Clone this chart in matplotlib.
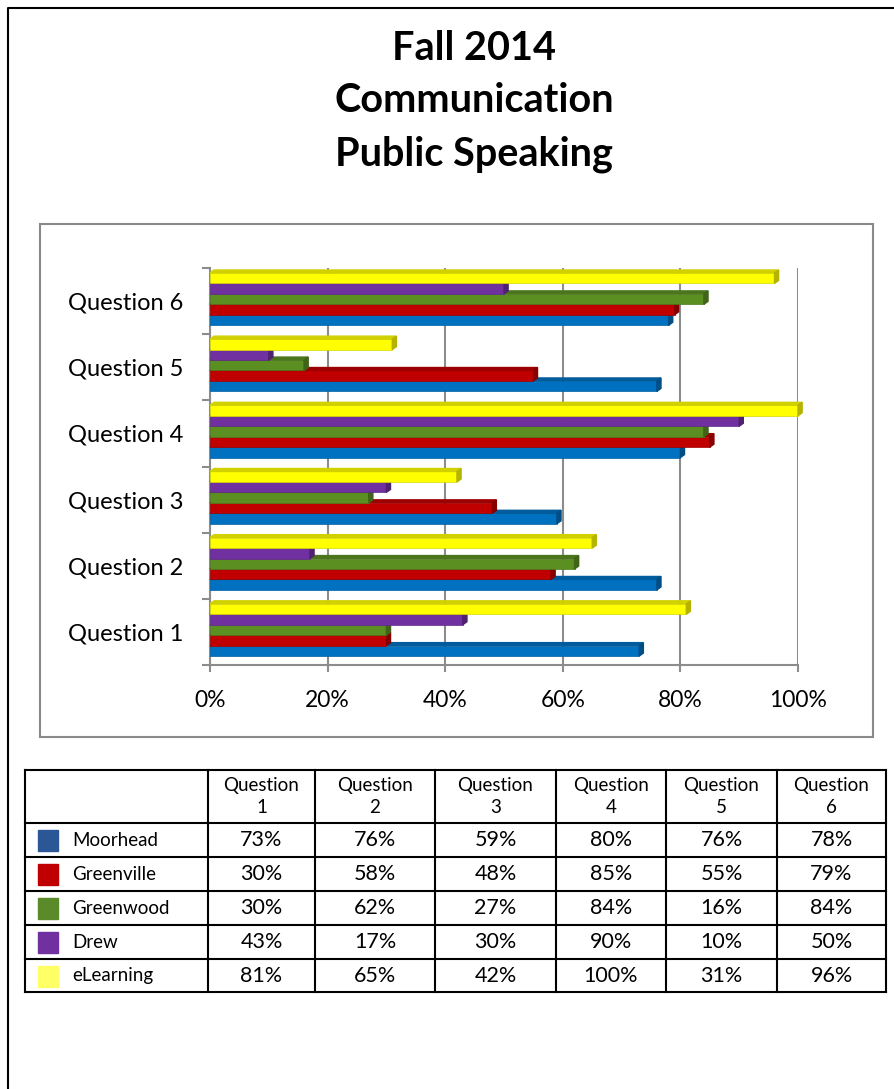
import matplotlib.pyplot as plt
from matplotlib.patches import Rectangle, Polygon
from matplotlib.colors import to_rgb

plt.rcParams['font.family'] = ['Lato', 'DejaVu Sans']

# data
questions = ['Question 1', 'Question 2', 'Question 3', 'Question 4', 'Question 5', 'Question 6']
campuses = ['Moorhead', 'Greenville', 'Greenwood', 'Drew', 'eLearning']
moorhead = [73, 76, 59, 80, 76, 78]
greenville = [30, 58, 48, 85, 55, 79]
greenwood = [30, 62, 27, 84, 16, 84]
drew = [43, 17, 30, 90, 10, 50]
elearning = [81, 65, 42, 100, 31, 96]
series = [moorhead, greenville, greenwood, drew, elearning]

bar_colors = ['#0070C0', '#C00000', '#5B8F22', '#7030A0', '#FFFF00']
key_colors = ['#2B5797', '#C00000', '#5A8A2A', '#7030A0', '#FFFF66']
title_lines = ['Fall 2014', 'Communication', 'Public Speaking']
xticks = [0, 20, 40, 60, 80, 100]


def shade(c, f):
    r, g, b = to_rgb(c)
    return (r * f, g * f, b * f)


fig = plt.figure(figsize=(8.94, 10.89), dpi=100)

# background layer in pixel coordinates for page border, title, chart box, table
bg = fig.add_axes([0, 0, 1, 1])
bg.set_xlim(0, 894)
bg.set_ylim(1089, 0)
bg.axis('off')

bg.plot([8, 8, 894], [1089, 8, 8], color='black', lw=1.5)
for i, line in enumerate(title_lines):
    bg.text(474, 48 + i * 53, line, ha='center', va='center', fontsize=28.5, weight='bold')
bg.add_patch(Rectangle((40, 224), 833, 513, fill=False, ec='#898989', lw=1.5))

# bar chart
ax = fig.add_axes([210 / 894, (1089 - 665) / 1089, 588 / 894, 397 / 1089])
n = len(series)
bar_h = 0.158
start = -bar_h * n / 2 + 0.03
dx, dy = 0.7, 0.045
for i, vals in enumerate(series):
    col = bar_colors[i]
    for q, v in enumerate(vals):
        y0 = q + start + i * bar_h
        y1 = y0 + bar_h
        ax.barh(y0 + bar_h / 2, v, height=bar_h, color=col, edgecolor=shade(col, 0.85),
                lw=0.5, zorder=3, clip_on=False)
        ax.add_patch(Polygon([(0, y1), (dx, y1 + dy), (v + dx, y1 + dy), (v, y1)],
                             closed=True, color=shade(col, 0.82), zorder=3, clip_on=False))
        ax.add_patch(Polygon([(v, y0), (v + dx, y0 + dy), (v + dx, y1 + dy), (v, y1)],
                             closed=True, color=shade(col, 0.7), zorder=3, clip_on=False))

ax.set_xlim(0, 100)
ax.set_ylim(-0.5, len(questions) - 0.5)
ax.set_xticks(xticks)
ax.set_xticklabels([f'{t}%' for t in xticks], fontsize=16.5)
ax.set_yticks(range(len(questions)))
ax.set_yticklabels(questions, fontsize=17)
ax.set_yticks([k - 0.5 for k in range(len(questions) + 1)], minor=True)
ax.tick_params(axis='y', which='major', length=0, pad=19)
ax.tick_params(axis='y', which='minor', length=6, color='#8C8C8C', width=1.5)
ax.tick_params(axis='x', length=5, color='#8C8C8C', width=1.5, pad=13)
ax.grid(axis='x', color='#8C8C8C', lw=1.5)
ax.set_axisbelow(True)
for s in ['top', 'right']:
    ax.spines[s].set_visible(False)
for s in ['left', 'bottom']:
    ax.spines[s].set_color('#8C8C8C')
    ax.spines[s].set_linewidth(1.5)
ax.patch.set_alpha(0)

# data table
col_x = [25, 208, 315, 435, 556, 666, 777, 886]
row_y = [770, 823, 857, 891, 925, 959, 992]
for x in col_x:
    bg.plot([x, x], [row_y[0], row_y[-1]], color='black', lw=1.5)
for y in row_y:
    bg.plot([col_x[0], col_x[-1]], [y, y], color='black', lw=1.5)

for q, name in enumerate(questions):
    xc = (col_x[q + 1] + col_x[q + 2]) / 2
    word, num = name.split()
    bg.text(xc, (row_y[0] + row_y[1]) / 2, f'{word}\n{num}', ha='center', va='center',
            fontsize=13.5, linespacing=1.4)

for i, name in enumerate(campuses):
    yc = (row_y[i + 1] + row_y[i + 2]) / 2
    bg.add_patch(Rectangle((38, yc - 10), 20, 21, color=key_colors[i]))
    bg.text(72, yc, name, ha='left', va='center', fontsize=13.5)
    for q, v in enumerate(series[i]):
        xc = (col_x[q + 1] + col_x[q + 2]) / 2
        bg.text(xc, yc, f'{v}%', ha='center', va='center', fontsize=15.5)

fig.savefig('out.png', dpi=100)
